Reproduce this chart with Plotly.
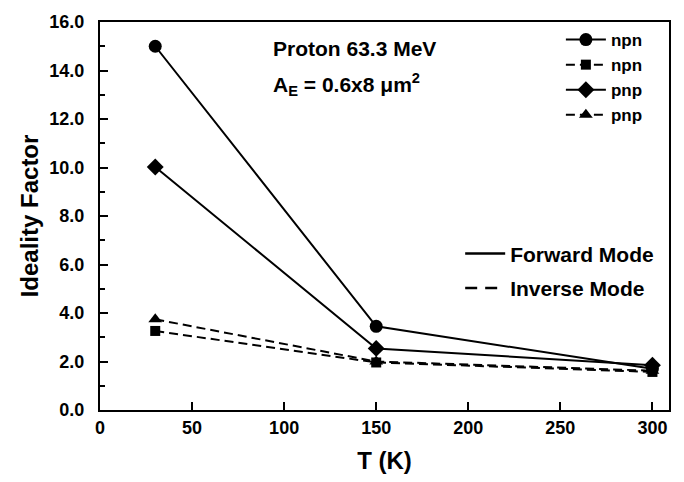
import plotly.graph_objects as go

temps = [30, 150, 300]
npn_forward = [15.0, 3.45, 1.70]
npn_inverse = [3.26, 1.96, 1.57]
pnp_forward = [10.02, 2.54, 1.85]
pnp_inverse = [3.74, 2.00, 1.62]

FONT = "Liberation Sans, Arial, sans-serif"

fig = go.Figure()
series = [
    ("npn", npn_forward, "circle", "solid", 13),
    ("npn", npn_inverse, "square", "dash", 10),
    ("pnp", pnp_forward, "diamond", "solid", 13),
    ("pnp", pnp_inverse, "triangle-up", "dash", 12),
]
for name, vals, sym, dash, size in series:
    fig.add_trace(go.Scatter(
        x=temps, y=vals, mode="lines+markers", name=name,
        line=dict(color="black", width=2, dash=dash if dash == "solid" else "9px,5px"),
        marker=dict(symbol=sym, size=size, color="black"),
        legend="legend",
    ))

fig.add_trace(go.Scatter(x=[None], y=[None], mode="lines", name="Forward Mode",
                         line=dict(color="black", width=2.5), legend="legend2",
                         legendgroup="fwd"))
fig.add_trace(go.Scatter(x=[None], y=[None], mode="lines", name="Inverse Mode",
                         line=dict(color="black", width=2.5, dash="12px,8px"), legend="legend2",
                         legendgroup="inv"))

fig.update_layout(
    width=684, height=482,
    margin=dict(l=100, r=15, t=18, b=66),
    plot_bgcolor="white", paper_bgcolor="white",
    font=dict(family=FONT, color="black", size=16),
    legend=dict(x=0.81, y=1.0, xanchor="left", yanchor="top",
                font=dict(family=FONT, size=17, color="black", weight="bold"),
                bgcolor="rgba(0,0,0,0)", itemwidth=40, tracegroupgap=0),
    legend2=dict(x=0.633, y=0.455, xanchor="left", yanchor="top",
                 font=dict(family=FONT, size=21, color="black", weight="bold"),
                 bgcolor="rgba(0,0,0,0)", itemwidth=40, tracegroupgap=4),
    annotations=[
        dict(text="<b>Proton 63.3 MeV</b>", xref="paper", yref="paper",
             x=0.300, y=0.932, xanchor="left", yanchor="middle", showarrow=False,
             font=dict(family=FONT, size=21)),
        dict(text="<b>A<sub>E</sub> = 0.6x8 μm<sup>2</sup></b>", xref="paper", yref="paper",
             x=0.300, y=0.840, xanchor="left", yanchor="middle", showarrow=False,
             font=dict(family=FONT, size=21)),
    ],
)

fig.update_xaxes(
    range=[0, 309], tickvals=[0, 50, 100, 150, 200, 250, 300],
    ticks="inside", ticklen=8, tickwidth=2, tickcolor="black",
    showline=True, linecolor="black", linewidth=2, mirror=True,
    showgrid=False, zeroline=False,
    tickfont=dict(family=FONT, size=18, weight="bold"),
    title=dict(text="<b>T (K)</b>", font=dict(family=FONT, size=24), standoff=16),
)
fig.update_yaxes(
    range=[0, 16], tickvals=[0, 2, 4, 6, 8, 10, 12, 14, 16], tickformat=".1f",
    ticks="inside", ticklen=8, tickwidth=2, tickcolor="black",
    minor=dict(dtick=1, ticks="inside", ticklen=5, tickwidth=2, tickcolor="black"),
    showline=True, linecolor="black", linewidth=2, mirror=True,
    showgrid=False, zeroline=False,
    tickfont=dict(family=FONT, size=18, weight="bold"),
    ticklabelstandoff=10,
    title=dict(text="<b>Ideality Factor</b>", font=dict(family=FONT, size=24), standoff=4),
)

fig.write_html("out.html")
